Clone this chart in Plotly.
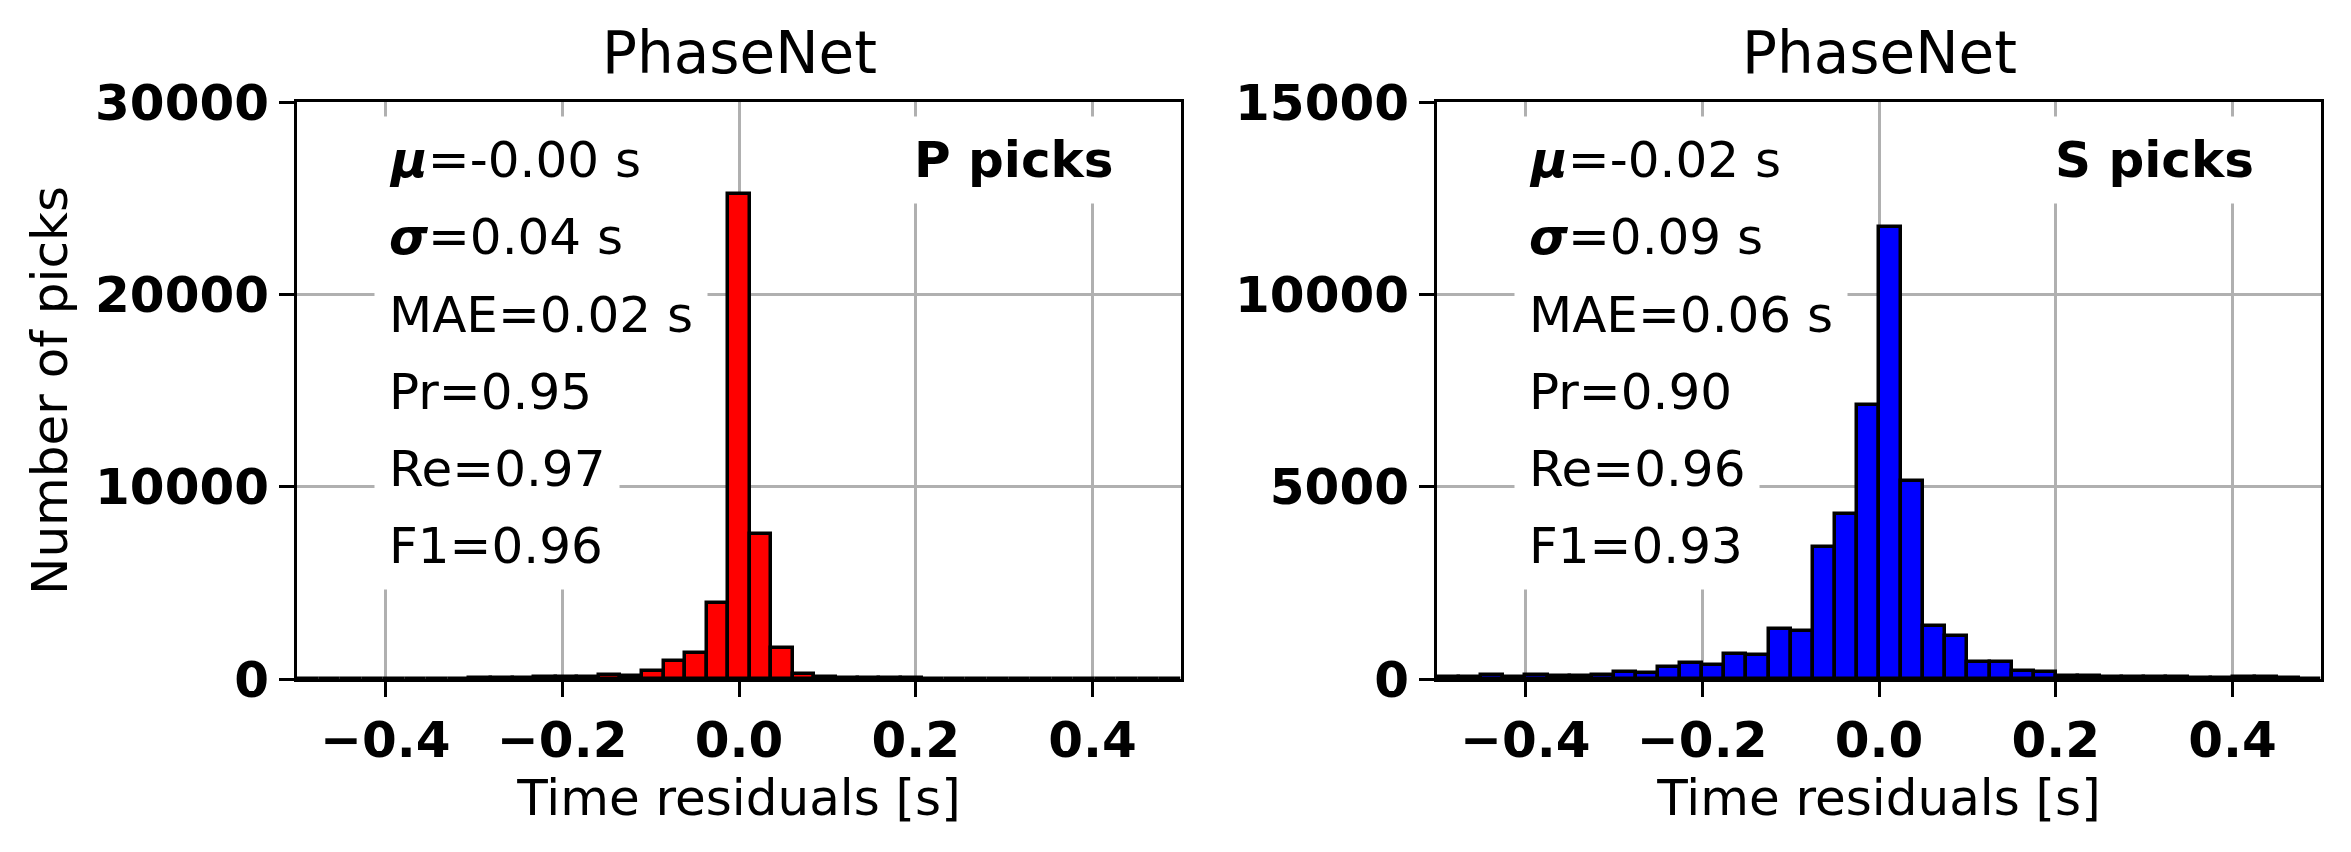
import numpy as np
import plotly.graph_objects as go

# P-pick residual histogram: 41 bins spanning [-0.5, 0.5] s
p_edges = np.linspace(-0.5, 0.5, 42)
p_counts = [5, 5, 5, 5, 10, 10, 15, 20, 50, 60, 60, 100, 120, 120, 200, 160, 400, 960, 1360, 3960,
            25200, 7520, 1600, 260, 80, 50, 40, 30, 30, 25, 20, 20, 15, 15, 10, 10, 10, 10, 10, 20, 10]

# S-pick residual histogram: 40 bins spanning [-0.5, 0.5] s
s_edges = np.linspace(-0.5, 0.5, 41)
s_counts = [50, 60, 110, 60, 110, 80, 80, 100, 180, 160, 300, 410, 360, 650, 630, 1300, 1260, 3420, 4300, 7130,
            11750, 5160, 1380, 1130, 450, 450, 200, 180, 80, 70, 60, 60, 50, 40, 30, 30, 40, 40, 20, 10]

p_stats = ["<b><i>μ</i></b>=-0.00 s", "<b><i>σ</i></b>=0.04 s", "MAE=0.02 s", "Pr=0.95", "Re=0.97", "F1=0.96"]
s_stats = ["<b><i>μ</i></b>=-0.02 s", "<b><i>σ</i></b>=0.09 s", "MAE=0.06 s", "Pr=0.90", "Re=0.96", "F1=0.93"]

x_ticks = [-0.4, -0.2, 0.0, 0.2, 0.4]
x_ticktext = ["−0.4", "−0.2", "0.0", "0.2", "0.4"]
p_yticks = [0, 10000, 20000, 30000]
s_yticks = [0, 5000, 10000, 15000]

FONT = "DejaVu Sans"
W, H = 2351, 852


def centers(edges):
    edges = np.asarray(edges)
    return (edges[:-1] + edges[1:]) / 2, np.diff(edges)


fig = go.Figure()

px, pw = centers(p_edges)
sx, sw = centers(s_edges)
fig.add_trace(go.Bar(x=px, y=p_counts, width=pw, marker=dict(color="red", line=dict(color="black", width=3.5)),
                     xaxis="x", yaxis="y", showlegend=False))
fig.add_trace(go.Bar(x=sx, y=s_counts, width=sw, marker=dict(color="blue", line=dict(color="black", width=3.5)),
                     xaxis="x2", yaxis="y2", showlegend=False))

axis_common = dict(
    showline=True, linewidth=3, linecolor="black", mirror=True,
    ticks="outside", ticklen=15, tickwidth=3, tickcolor="black",
    showgrid=True, gridcolor="#b0b0b0", gridwidth=3, zeroline=False,
    layer="above traces", automargin=False,
    tickfont=dict(family=FONT, size=50, color="black", weight="bold"),
)

title_font = dict(family=FONT, size=50, color="black")
y_dom = [1 - 679 / H, 1 - 102 / H]

fig.update_layout(
    width=W, height=H,
    margin=dict(l=0, r=0, t=0, b=0),
    paper_bgcolor="white", plot_bgcolor="white",
    bargap=0,
    xaxis=dict(domain=[297 / W, 1181 / W], range=[-0.5, 0.5], tickvals=x_ticks, ticktext=x_ticktext,
               title=dict(text="Time residuals [s]", font=title_font, standoff=10), anchor="y", **axis_common),
    yaxis=dict(domain=y_dom, range=[0, 30000], tickvals=p_yticks,
               ticktext=[str(v) for v in p_yticks],
               title=dict(text="Number of picks", font=title_font, standoff=12), anchor="x", **axis_common),
    xaxis2=dict(domain=[1437 / W, 2321 / W], range=[-0.5, 0.5], tickvals=x_ticks, ticktext=x_ticktext,
                title=dict(text="Time residuals [s]", font=title_font, standoff=10), anchor="y2", **axis_common),
    yaxis2=dict(domain=y_dom, range=[0, 15000], tickvals=s_yticks,
                ticktext=[str(v) for v in s_yticks], anchor="x2", **axis_common),
)

annotations = []
for xref, yref, stats, label in [("x domain", "y domain", p_stats, "<b>P picks</b>"),
                                 ("x2 domain", "y2 domain", s_stats, "<b>S picks</b>")]:
    for i, line in enumerate(stats):
        annotations.append(dict(
            text=line, xref=xref, yref=yref, x=0.087, y=0.899 - i * 0.1337,
            xanchor="left", yanchor="middle", showarrow=False,
            font=dict(family=FONT, size=50, color="black"),
            bgcolor="white", borderpad=14,
        ))
    annotations.append(dict(
        text=label, xref=xref, yref=yref, x=0.941, y=0.899,
        xanchor="right", yanchor="middle", showarrow=False,
        font=dict(family=FONT, size=50, color="black"),
        bgcolor="white", borderpad=14,
    ))
    annotations.append(dict(
        text="PhaseNet", xref=xref, yref="paper", x=0.5, y=1 - 53 / H,
        xanchor="center", yanchor="middle", showarrow=False,
        font=dict(family=FONT, size=58, color="black"),
    ))

fig.update_layout(annotations=annotations)

fig.write_html("out.html", config={"displayModeBar": False},
               post_script="document.body.style.margin='0';")
